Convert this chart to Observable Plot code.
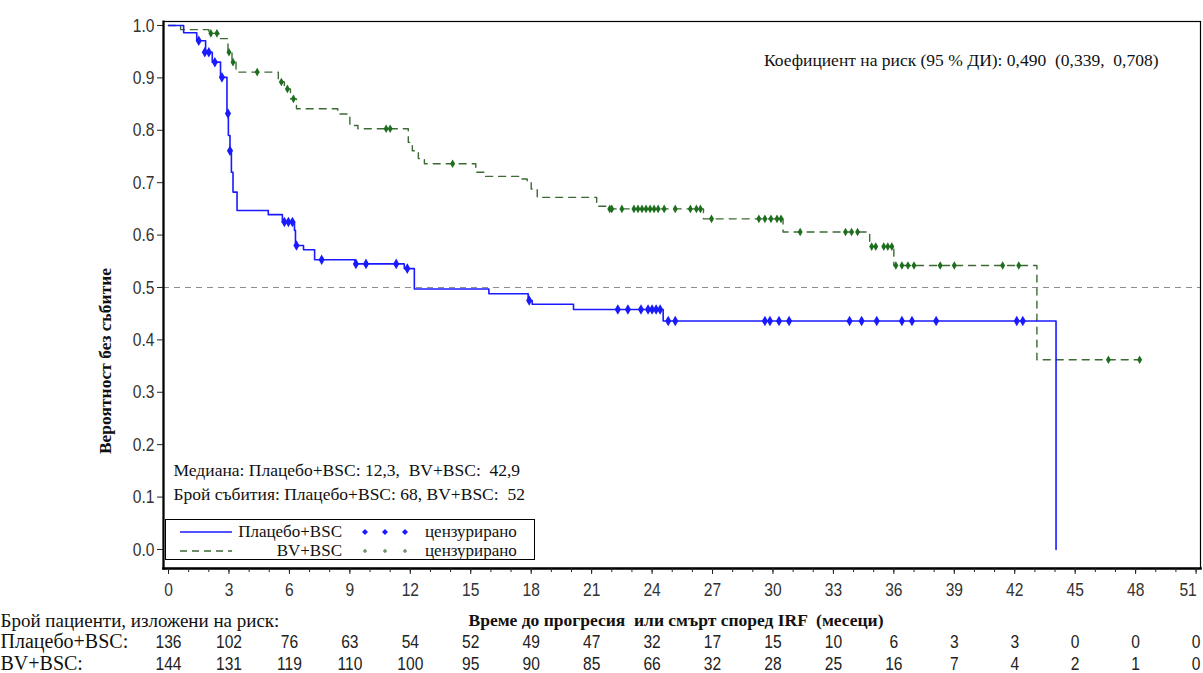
<!DOCTYPE html>
<html>
<head>
<meta charset="utf-8">
<script src="https://cdn.jsdelivr.net/npm/d3@7"></script>
<script src="https://cdn.jsdelivr.net/npm/@observablehq/plot@0.6"></script>
<style>
  html, body { margin: 0; padding: 0; background: #fff; }
  #wrap { position: relative; width: 1203px; height: 673px; }
  #legend { position: absolute; left: 165px; top: 519px; width: 368px; height: 39px;
    border: 1.5px solid #000; background: #fff; }
</style>
</head>
<body>
<div id="wrap"></div>
<script>
// ---- data ----
const placeboT = [0, 0.75, 1.4, 1.84, 2.17, 2.58, 2.9, 2.97, 3.05, 3.12, 3.2, 3.4, 4.95, 5.65, 6.25, 6.3, 6.7, 7.25, 9.25, 11.7, 12.2, 15.9, 17.85, 18.05, 20.1, 24.55, 44.05];
const placeboS = [1.0, 0.986, 0.971, 0.949, 0.93, 0.901, 0.832, 0.79, 0.761, 0.72, 0.682, 0.647, 0.639, 0.625, 0.609, 0.58, 0.572, 0.553, 0.545, 0.536, 0.497, 0.488, 0.475, 0.468, 0.458, 0.436, 0.0];
const placeboCensT = [1.5, 1.8, 2.0, 2.3, 2.65, 2.95, 3.05, 5.75, 5.95, 6.15, 6.35, 7.6, 9.3, 9.8, 11.3, 11.85, 17.9, 22.3, 22.8, 23.45, 23.8, 24.0, 24.2, 24.4, 24.8, 25.15, 29.6, 29.85, 30.3, 30.8, 33.8, 34.4, 35.15, 36.4, 36.9, 38.1, 42.1, 42.4];
const placeboCensS = [0.971, 0.949, 0.949, 0.93, 0.901, 0.832, 0.761, 0.625, 0.625, 0.625, 0.58, 0.553, 0.545, 0.545, 0.545, 0.536, 0.475, 0.458, 0.458, 0.458, 0.458, 0.458, 0.458, 0.458, 0.436, 0.436, 0.436, 0.436, 0.436, 0.436, 0.436, 0.436, 0.436, 0.436, 0.436, 0.436, 0.436, 0.436];

const bvT = [0, 0.6, 2.0, 2.5, 2.95, 3.15, 3.35, 5.45, 5.75, 6.05, 6.35, 8.4, 9.0, 9.4, 11.9, 12.1, 12.4, 12.7, 15.25, 15.7, 17.5, 17.8, 18.0, 18.3, 21.25, 21.7, 26.55, 30.5, 34.8, 36.0, 43.1, 48.2];
const bvS = [1.0, 0.992, 0.985, 0.975, 0.949, 0.93, 0.911, 0.892, 0.879, 0.86, 0.841, 0.831, 0.809, 0.803, 0.777, 0.761, 0.746, 0.736, 0.72, 0.712, 0.707, 0.701, 0.688, 0.672, 0.655, 0.65, 0.631, 0.606, 0.578, 0.542, 0.362, 0.362];
const bvCensT = [2.1, 2.4, 3.0, 3.2, 4.4, 5.6, 5.9, 6.2, 10.8, 11.0, 14.1, 21.9, 22.0, 22.5, 23.1, 23.3, 23.5, 23.7, 23.9, 24.1, 24.3, 24.6, 25.15, 25.9, 26.2, 26.4, 26.95, 29.3, 29.6, 29.9, 30.2, 30.4, 31.35, 33.6, 33.9, 34.2, 34.9, 35.1, 35.5, 35.7, 35.9, 36.1, 36.4, 36.7, 37.0, 38.3, 39.0, 41.4, 42.2, 46.65, 48.2];
const bvCensS = [0.985, 0.985, 0.949, 0.93, 0.911, 0.892, 0.879, 0.86, 0.803, 0.803, 0.736, 0.65, 0.65, 0.65, 0.65, 0.65, 0.65, 0.65, 0.65, 0.65, 0.65, 0.65, 0.65, 0.65, 0.65, 0.65, 0.631, 0.631, 0.631, 0.631, 0.631, 0.631, 0.606, 0.606, 0.606, 0.606, 0.578, 0.578, 0.578, 0.578, 0.578, 0.542, 0.542, 0.542, 0.542, 0.542, 0.542, 0.542, 0.542, 0.362, 0.362];

const riskTimes = [0, 3, 6, 9, 12, 15, 18, 21, 24, 27, 30, 33, 36, 39, 42, 45, 48, 51];
const placeboRisk = [136, 102, 76, 63, 54, 52, 49, 47, 32, 17, 15, 10, 6, 3, 3, 0, 0, 0];
const bvRisk = [144, 131, 119, 110, 100, 95, 90, 85, 66, 32, 28, 25, 16, 7, 4, 2, 1, 0];

const xMajorTicks = [0, 3, 6, 9, 12, 15, 18, 21, 24, 27, 30, 33, 36, 39, 42, 45, 48, 51];
const yTicks = [0, 0.1, 0.2, 0.3, 0.4, 0.5, 0.6, 0.7, 0.8, 0.9, 1.0];

const groupNames = ["Плацебо+BSC", "BV+BSC"];
const hrText = "Коефициент на риск (95 % ДИ): 0,490  (0,339,  0,708)";
const medianText = "Медиана: Плацебо+BSC: 12,3,  BV+BSC:  42,9";
const eventsText = "Брой събития: Плацебо+BSC: 68, BV+BSC:  52";
const yLabel = "Вероятност без събитие";
const xLabel = "Време до прогресия  или смърт според IRF  (месеци)";
const riskTitle = "Брой пациенти, изложени на риск:";
const censLabel = "цензурирано";

// ---- build ----
const placebo = placeboT.map((t, i) => ({t, s: placeboS[i]}));
const bv = bvT.map((t, i) => ({t, s: bvS[i]}));
const placeboCens = placeboCensT.map((t, i) => ({t, s: placeboCensS[i]}));
const bvCens = bvCensT.map((t, i) => ({t, s: bvCensS[i]}));
const risk = riskTimes.map((t, i) => ({t, p: placeboRisk[i], b: bvRisk[i]}));

const BLUE = "#1a1aff";
const GREEN = "#3d6a35";
const GREENM = "#1d6e1d";
const SANS = "'Liberation Sans Narrow', 'Arial Narrow', 'Liberation Sans', Arial, sans-serif";
const SERIF = "'Liberation Serif', 'Times New Roman', serif";
const T = {lineAnchor: "middle", fontFamily: SERIF, fill: "#111"};

const chart = Plot.plot({
  width: 1203,
  height: 673,
  marginLeft: 163,
  marginRight: 3,
  marginTop: 21,
  marginBottom: 105,
  style: {fontFamily: SANS, background: "#fff", color: "#222"},
  x: {domain: [-0.25, 51.22]},
  y: {domain: [-0.0363, 1.0076]},
  marks: [
    Plot.ruleY([0.5], {stroke: "#8a8a8a", strokeWidth: 1, strokeDasharray: "6,5"}),
    Plot.line(bv, {x: "t", y: "s", curve: "step-after", stroke: GREEN, strokeWidth: 1.4, strokeDasharray: "7,6"}),
    Plot.line(placebo, {x: "t", y: "s", curve: "step-after", stroke: BLUE, strokeWidth: 1.6}),
    Plot.dot(bvCens, {x: "t", y: "s", symbol: "diamond", r: 2.6, fill: GREENM, stroke: "none"}),
    Plot.dot(placeboCens, {x: "t", y: "s", symbol: "diamond", r: 3.2, fill: BLUE, stroke: "none"}),
    Plot.frame({stroke: "#000", strokeWidth: 1.2}),
    Plot.frame({anchor: "left", stroke: "#000", strokeWidth: 2.2}),
    Plot.frame({anchor: "bottom", stroke: "#000", strokeWidth: 2.6}),
    Plot.axisY({ticks: yTicks, tickFormat: d => d.toFixed(1), tickSize: 6, tickPadding: 3, fontSize: 19, label: null, fill: "#333"}),
    Plot.axisX({ticks: xMajorTicks, tickFormat: d => String(d), tickSize: 6, tickPadding: 8, fontSize: 19, label: null, fill: "#333"}),
    Plot.axisX({ticks: d3.range(0, 52, 1), tickFormat: null, text: null, tickSize: 4, label: null}),
    // annotations
    Plot.text([hrText], {...T, text: d => d, frameAnchor: "top-right", dx: -42, dy: 39, textAnchor: "end", fontSize: 17.5}),
    Plot.text([medianText], {...T, text: d => d, frameAnchor: "bottom-left", dx: 10, dy: -98, textAnchor: "start", fontSize: 17.5}),
    Plot.text([eventsText], {...T, text: d => d, frameAnchor: "bottom-left", dx: 10, dy: -74, textAnchor: "start", fontSize: 17.5}),
    Plot.text([yLabel], {...T, text: d => d, frameAnchor: "left", dx: -58, dy: 66, rotate: -90, textAnchor: "middle", fontWeight: "bold", fontSize: 17.5}),
    Plot.text([xLabel], {...T, text: d => d, frameAnchor: "bottom", dx: -6, dy: 52, textAnchor: "middle", fontWeight: "bold", fontSize: 17.5}),
    Plot.text([riskTitle], {...T, text: d => d, frameAnchor: "bottom-left", dx: -163, dy: 52, textAnchor: "start", fontSize: 19}),
    Plot.text([groupNames[0] + ":"], {...T, text: d => d, frameAnchor: "bottom-left", dx: -163, dy: 73, textAnchor: "start", fontSize: 20}),
    Plot.text([groupNames[1] + ":"], {...T, text: d => d, frameAnchor: "bottom-left", dx: -163, dy: 95, textAnchor: "start", fontSize: 20}),
    Plot.text(risk, {x: "t", text: "p", frameAnchor: "bottom", lineAnchor: "middle", dy: 73, fontSize: 19, fill: "#222"}),
    Plot.text(risk, {x: "t", text: "b", frameAnchor: "bottom", lineAnchor: "middle", dy: 95, fontSize: 19, fill: "#222"})
  ]
});
document.getElementById("wrap").appendChild(chart);

// condense numeric labels (emulating a narrow face) via textLength only
try {
  chart.querySelectorAll("text").forEach(t => {
    const s = t.textContent;
    if (/^[0-9.]+$/.test(s) && t.children.length === 0) {
      const w = t.getComputedTextLength();
      if (w > 0) {
        t.setAttribute("textLength", (w * 0.82).toFixed(2));
        t.setAttribute("lengthAdjust", "spacingAndGlyphs");
      }
    }
  });
  // keep the last x tick label inside the picture
  chart.querySelectorAll('g[aria-label="x-axis tick label"] text').forEach(t => {
    if (t.textContent === "51") t.setAttribute("dx", "-8");
  });
} catch (e) {}

// legend box (HTML overlay with an inline svg)
const lg = document.createElement("div");
lg.id = "legend";
const svgNS = "http://www.w3.org/2000/svg";
const s = document.createElementNS(svgNS, "svg");
s.setAttribute("width", 368); s.setAttribute("height", 39);
s.style.fontFamily = SERIF;
function el(name, attrs, text) {
  const e = document.createElementNS(svgNS, name);
  for (const k in attrs) e.setAttribute(k, attrs[k]);
  if (text) e.textContent = text;
  s.appendChild(e); return e;
}
const rows = [
  {y: 12, name: groupNames[0], stroke: BLUE, dash: null, mfill: BLUE, mr: 3},
  {y: 31, name: groupNames[1], stroke: GREEN, dash: "7,5", mfill: "#6f8f6f", mr: 2.2}
];
rows.forEach(r => {
  el("line", {x1: 14, x2: 66, y1: r.y, y2: r.y, stroke: r.stroke, "stroke-width": 1.6, "stroke-dasharray": r.dash || "none"});
  el("text", {x: 176, y: r.y + 5, "text-anchor": "end", "font-size": 17, fill: "#111"}, r.name);
  [199, 219, 239].forEach(x => el("path", {d: `M${x},${r.y - r.mr} L${x + r.mr},${r.y} L${x},${r.y + r.mr} L${x - r.mr},${r.y} Z`, fill: r.mfill}));
  el("text", {x: 259, y: r.y + 5, "font-size": 17, fill: "#111"}, censLabel);
});
lg.appendChild(s);
document.getElementById("wrap").appendChild(lg);
</script>
</body>
</html>
